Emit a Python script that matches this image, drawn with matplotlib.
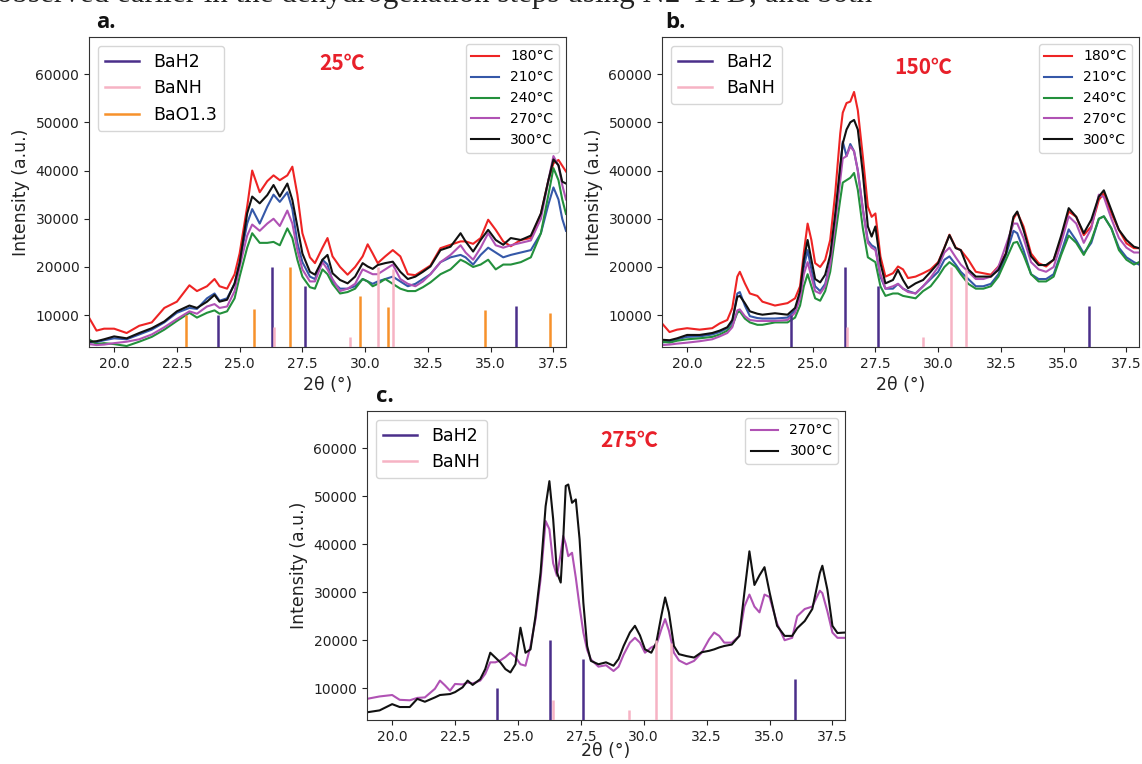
import matplotlib
matplotlib.use("Agg")
import matplotlib.pyplot as plt
from matplotlib.lines import Line2D

# ---------------- data ----------------
temps5 = ["180°C", "210°C", "240°C", "270°C", "300°C"]
temp_colors = {"180°C": "#ee2424", "210°C": "#3558a8", "240°C": "#23903c",
               "270°C": "#b052b4", "300°C": "#111111"}

# reference stick patterns (position, height)
bah2_pos = [24.15, 26.27, 27.6, 36.0]
bah2_h = [10000, 20000, 16000, 12000]
banh_pos = [26.38, 29.4, 30.5, 31.1]
banh_h = [7500, 5400, 20000, 19500]
bao_pos = [22.88, 25.58, 27.0, 29.8, 30.9, 34.78, 37.38]
bao_h = [10000, 11300, 20000, 14000, 11800, 11000, 10400]

# panel a (25°C)
xa = [19.0, 19.3, 19.6, 20.0, 20.5, 21.0, 21.5, 22.0, 22.5, 23.0, 23.3, 23.7, 24.0, 24.2,
      24.5, 24.8, 25.0, 25.3, 25.5, 25.8, 26.1, 26.35, 26.6, 26.9, 27.1, 27.3, 27.5, 27.8,
      28.0, 28.3, 28.5, 28.7, 29.0, 29.3, 29.6, 29.9, 30.1, 30.3, 30.5, 30.8, 31.1, 31.4,
      31.7, 32.0, 32.3, 32.6, 33.0, 33.4, 33.8, 34.0, 34.3, 34.6, 34.9, 35.2, 35.5, 35.8,
      36.2, 36.6, 37.0, 37.3, 37.5, 37.7, 37.85, 38.0]
a_180 = [9500, 6800, 7200, 7200, 6300, 7800, 8500, 11500, 12800, 16200, 15000, 16000, 17500, 16000,
         15500, 18500, 22800, 32500, 40000, 35500, 37800, 39000, 38000, 39000, 40800, 35000, 27000, 22000,
         20800, 24000, 26000, 22200, 20000, 18400, 20000, 22200, 24700, 22800, 20800, 22200, 23500, 22200,
         18500, 18300, 19300, 20300, 23900, 24600, 25300, 25300, 24800, 26000, 29800, 27700, 25300, 24300,
         25600, 26000, 31000, 38000, 41500, 42200, 41000, 39800]
a_210 = [4300, 4400, 4800, 5200, 5000, 6000, 7000, 8500, 10500, 11500, 11300, 13500, 14500, 13000,
         13500, 16500, 21000, 29000, 32000, 29000, 32500, 35000, 33500, 35500, 32000, 25000, 21000, 18000,
         17500, 21500, 20500, 17000, 15500, 15500, 16000, 17500, 17000, 16500, 17000, 17500, 18000, 17000,
         16000, 16500, 17500, 18500, 21000, 22000, 22500, 22000, 20500, 22500, 24000, 23000, 22000, 22500,
         23000, 23500, 27000, 33000, 36500, 34000, 30000, 27500]
a_240 = [5000, 4000, 4200, 4000, 3600, 4500, 5500, 7000, 8800, 10500, 9500, 10500, 11000, 10300,
         10800, 13500, 18000, 24000, 27000, 25000, 25000, 25200, 24500, 28000, 26000, 21500, 18000, 15800,
         15500, 19500, 18500, 16500, 14500, 14800, 15500, 17500, 17000, 16000, 16500, 17500, 16500, 15500,
         15000, 15000, 15800, 16800, 18500, 19500, 21500, 21000, 20000, 20500, 21500, 19500, 20500, 20500,
         21000, 22000, 27000, 35000, 40500, 38000, 34000, 31000]
a_270 = [4000, 3800, 3900, 4200, 4500, 5000, 6000, 7500, 9200, 10800, 10300, 11800, 12300, 11500,
         11800, 15000, 20000, 26500, 28800, 27500, 29000, 30000, 28500, 31700, 29000, 23500, 19500, 17000,
         17000, 21000, 19500, 17500, 15000, 15500, 16500, 19500, 19000, 18500, 18500, 19500, 20500, 17500,
         16500, 16000, 17000, 18500, 21000, 22500, 24500, 23000, 21500, 24000, 27000, 24500, 24000, 24500,
         25000, 25500, 30000, 38000, 43000, 41000, 37000, 34000]
a_300 = [4500, 4600, 5000, 5600, 5200, 6300, 7300, 8700, 10800, 12000, 11500, 12800, 14200, 12800,
         13200, 16600, 20800, 31100, 34600, 33200, 34900, 37000, 34600, 37300, 33900, 28400, 22800, 19000,
         18400, 21500, 22500, 18700, 17300, 16600, 18000, 20800, 20100, 19600, 20400, 20800, 21100, 19000,
         17500, 18000, 19000, 20100, 23500, 24200, 27000, 25300, 23200, 25600, 27700, 25600, 24600, 26000,
         25600, 26500, 31100, 38000, 42300, 41100, 37700, 37300]

# panel b (150°C)
xb = [19.0, 19.3, 19.6, 20.0, 20.5, 21.0, 21.3, 21.6, 21.8, 22.0, 22.1, 22.3, 22.5, 22.8, 23.0,
      23.5, 24.0, 24.3, 24.5, 24.65, 24.8, 24.95, 25.1, 25.3, 25.5, 25.7, 25.9, 26.1, 26.2, 26.35,
      26.5, 26.65, 26.8, 27.0, 27.2, 27.35, 27.5, 27.7, 27.9, 28.2, 28.4, 28.6, 28.8, 29.1, 29.4,
      29.7, 30.0, 30.25, 30.45, 30.7, 30.9, 31.2, 31.5, 31.8, 32.1, 32.4, 32.7, 33.0, 33.15, 33.4,
      33.7, 34.0, 34.3, 34.6, 34.9, 35.2, 35.5, 35.8, 36.1, 36.4, 36.6, 36.9, 37.2, 37.5, 37.8, 38.0]
b_180 = [8300, 6500, 7000, 7300, 7000, 7300, 8300, 9000, 11500, 18000, 19000, 16600, 14500, 14000, 12800,
         12000, 12500, 13500, 16000, 23000, 29000, 25600, 20800, 20000, 21500, 25600, 35300, 47700, 52000, 54000,
         54300, 56300, 52500, 42900, 32500, 30400, 31100, 22200, 18000, 18700, 20100, 19500, 17700, 18000, 18700,
         19500, 21000, 24000, 26700, 24000, 23500, 21500, 19000, 18700, 18400, 20100, 22800, 30000, 31300, 28400,
         22800, 20800, 20100, 21500, 25600, 31500, 30400, 26600, 28400, 33900, 35300, 31100, 27700, 24900, 23900, 23900]
b_210 = [4300, 4600, 5000, 5500, 5600, 6000, 6500, 7300, 8500, 14500, 14800, 12000, 9800, 9400, 9300,
         9300, 9500, 11000, 14000, 20000, 23500, 19500, 16000, 15000, 16500, 21000, 30000, 40000, 46000, 43000,
         45500, 44000, 40000, 32000, 25500, 24500, 24000, 18000, 15500, 15500, 16500, 15500, 15000, 14500, 16000,
         17500, 19000, 21500, 22200, 20500, 19000, 17500, 16000, 16000, 16500, 18500, 22500, 27500, 27000, 23500,
         18500, 17500, 17500, 18500, 23000, 27800, 25500, 22800, 25000, 30000, 30500, 28000, 24000, 22000, 21000, 20500]
b_240 = [4500, 4300, 4700, 5000, 5200, 5500, 6000, 6800, 7800, 10500, 10800, 9300, 8500, 8000, 8000,
         8500, 8500, 9500, 12000, 16000, 18500, 16000, 13500, 13000, 15000, 19000, 26500, 34000, 37500, 38000,
         38500, 39500, 36000, 28000, 22000, 21500, 21000, 16000, 14000, 14500, 14500, 14000, 13800, 13500, 15000,
         16000, 18000, 20000, 21000, 20000, 18500, 16500, 15500, 15500, 16000, 18000, 21500, 25000, 25200, 22500,
         18500, 17000, 17000, 18000, 22500, 26500, 25000, 22500, 25500, 30000, 30500, 28000, 23500, 21500, 20500, 21000]
b_270 = [3800, 3900, 4100, 4300, 4600, 5000, 5600, 6300, 7500, 11000, 11200, 9800, 9000, 8800, 8800,
         8800, 9000, 10500, 13500, 18500, 21000, 18000, 15000, 14500, 16000, 20500, 29000, 38000, 42500, 43000,
         45000, 44000, 40000, 32000, 25000, 24000, 23500, 18500, 15500, 16000, 16500, 15500, 14800, 14500, 16000,
         17800, 20000, 23000, 24000, 22000, 20500, 19000, 17500, 17500, 18000, 20000, 24500, 29000, 29000, 26000,
         21000, 19500, 19000, 20000, 25000, 30500, 29000, 25000, 28000, 35000, 34500, 30000, 26000, 24000, 23000, 23000]
b_300 = [4900, 4800, 5200, 5900, 5900, 6300, 6800, 7500, 9000, 13800, 14000, 12500, 10800, 10300, 10100,
         10400, 10100, 11500, 15000, 21500, 25600, 21500, 17500, 16800, 18400, 22500, 31000, 41000, 45600, 48500,
         50000, 50500, 48500, 39400, 28400, 26300, 28400, 20800, 16600, 17300, 19400, 17300, 15600, 16600, 17300,
         19000, 20800, 24000, 26600, 23900, 23500, 19500, 18000, 18000, 18000, 19400, 22800, 30400, 31500, 27700,
         22200, 20400, 20400, 21500, 26500, 32200, 30400, 27000, 29800, 34600, 35900, 31800, 27700, 25600, 24200, 23900]

# panel c (275°C)
xc = [19.0, 19.5, 20.0, 20.3, 20.7, 21.0, 21.3, 21.7, 21.9, 22.1, 22.3, 22.5, 22.8, 23.0, 23.2,
      23.5, 23.7, 23.9, 24.1, 24.3, 24.5, 24.7, 24.9, 25.1, 25.3, 25.5, 25.7, 25.9, 26.1, 26.25,
      26.4, 26.55, 26.7, 26.8, 26.9, 27.0, 27.15, 27.3, 27.45, 27.6, 27.75, 27.9, 28.2, 28.5, 28.8,
      29.0, 29.2, 29.45, 29.65, 29.85, 30.05, 30.3, 30.5, 30.7, 30.85, 31.0, 31.2, 31.4, 31.7, 32.0,
      32.3, 32.6, 32.8, 33.0, 33.2, 33.5, 33.8, 34.0, 34.2, 34.4, 34.6, 34.8, 35.0, 35.3, 35.6,
      35.9, 36.1, 36.4, 36.7, 37.0, 37.1, 37.3, 37.5, 37.7, 38.0]
c_270 = [7800, 8300, 8600, 7600, 7500, 8000, 8100, 9900, 11600, 10600, 9500, 10900, 10800, 11200, 11000,
         11600, 13000, 15400, 15400, 15800, 16500, 17400, 16500, 15000, 14700, 18800, 24400, 32700, 44800, 43100,
         36000, 33400, 38000, 41700, 40000, 37500, 38200, 33000, 27000, 21600, 18000, 16000, 14500, 14800, 13600,
         14500, 17000, 19500, 20500, 19500, 17400, 18500, 19000, 22300, 24400, 22000, 17400, 15800, 15000, 15700,
         17400, 20200, 21600, 20900, 19500, 19500, 20900, 27000, 29500, 27000, 25800, 29500, 29000, 23500, 20000,
         20500, 25000, 26500, 27000, 30300, 29800, 26000, 21600, 20500, 20500]
c_300 = [5000, 5400, 6700, 6100, 6100, 7800, 7200, 8100, 8600, 8700, 8800, 9200, 10200, 11600, 10700,
         11900, 14000, 17400, 16400, 15400, 14000, 13300, 15000, 22600, 17400, 18100, 25100, 34100, 47900, 53100,
         45200, 34100, 32000, 41000, 52100, 52400, 48600, 49300, 41000, 27800, 18800, 15700, 15000, 15400, 14700,
         16100, 18800, 21600, 23000, 21000, 18100, 17400, 19500, 25100, 28900, 25800, 18800, 17100, 16700, 16400,
         17500, 17800, 18100, 18500, 18800, 19100, 20900, 29900, 38500, 31500, 33500, 35200, 30000, 23000, 20900,
         20900, 22500, 24000, 26500, 34000, 35500, 30500, 23000, 21500, 21600]

panels = [
    dict(x=xa, curves=[a_180, a_210, a_240, a_270, a_300], temps=temps5, label="a.",
         title="25℃", tpos=(0.53, 0.916), bao=True, labelpad=4.0),
    dict(x=xb, curves=[b_180, b_210, b_240, b_270, b_300], temps=temps5, label="b.",
         title="150℃", tpos=(0.547, 0.903), bao=False, labelpad=4.0),
    dict(x=xc, curves=[c_270, c_300], temps=["270°C", "300°C"], label="c.",
         title="275℃", tpos=(0.548, 0.903), bao=False, labelpad=-1.5),
]

# ---------------- figure ----------------
W, H = 1142, 764
fig = plt.figure(figsize=(W / 100, H / 100), dpi=100)

def box(l, t, r, b):
    return [l / W, 1 - b / H, (r - l) / W, (b - t) / H]

rects = [box(89, 37, 566, 347), box(662, 37, 1139, 347), box(367, 411, 845, 720)]
label_pos = [(96, 28), (665, 28), (376, 402)]

fig.text(-0.003, 1 - 2 / H, "observed earlier in the dehydrogenation steps using N2-TPD, and both",
         family="Liberation Serif", fontsize=22.3, va="baseline", ha="left", color="#222222")

stick_lw = 1.8
for p, rect, lp in zip(panels, rects, label_pos):
    ax = fig.add_axes(rect)
    lines = []
    for t, y in zip(p["temps"], p["curves"]):
        ln, = ax.plot(p["x"], y, color=temp_colors[t], lw=1.5, label=t, zorder=2)
        lines.append(ln)
    h1 = ax.vlines(bah2_pos, 0, bah2_h, color="#4a2f8a", lw=stick_lw, label="BaH2", zorder=3)
    h2 = ax.vlines(banh_pos, 0, banh_h, color="#f6b3c4", lw=stick_lw, label="BaNH", zorder=3)
    handles = [h1, h2]
    if p["bao"]:
        h3 = ax.vlines(bao_pos, 0, bao_h, color="#f7912b", lw=stick_lw, label="BaO1.3", zorder=3)
        handles.append(h3)
    ax.set_xlim(19, 38)
    ax.set_ylim(3400, 67700)
    ax.set_xticks([20.0, 22.5, 25.0, 27.5, 30.0, 32.5, 35.0, 37.5])
    ax.set_yticks([10000, 20000, 30000, 40000, 50000, 60000])
    ax.tick_params(labelsize=10, colors="#222222")
    for s in ax.spines.values():
        s.set_color("#333333")
    ax.set_xlabel("2θ (°)", fontsize=12.5, color="#222222", labelpad=p["labelpad"])
    ax.set_ylabel("Intensity (a.u.)", fontsize=12.5, color="#222222")
    proxy = [Line2D([0], [0], color=h.get_color()[0], lw=stick_lw) for h in handles]
    leg1 = ax.legend(proxy, [h.get_label() for h in handles], loc="upper left", fontsize=12.5)
    ax.add_artist(leg1)
    ax.legend(lines, p["temps"], loc="upper right", fontsize=10)
    ax.text(p["tpos"][0], p["tpos"][1], p["title"], transform=ax.transAxes, ha="center", va="center",
            fontsize=15, fontweight="bold", color="#e8202a", family=["Noto Sans CJK SC", "DejaVu Sans"])
    fig.text(lp[0] / W, 1 - lp[1] / H, p["label"], fontsize=16, fontweight="bold",
             family="Open Sans", va="baseline", ha="left", color="#111111")

fig.savefig("out.png", dpi=100)
